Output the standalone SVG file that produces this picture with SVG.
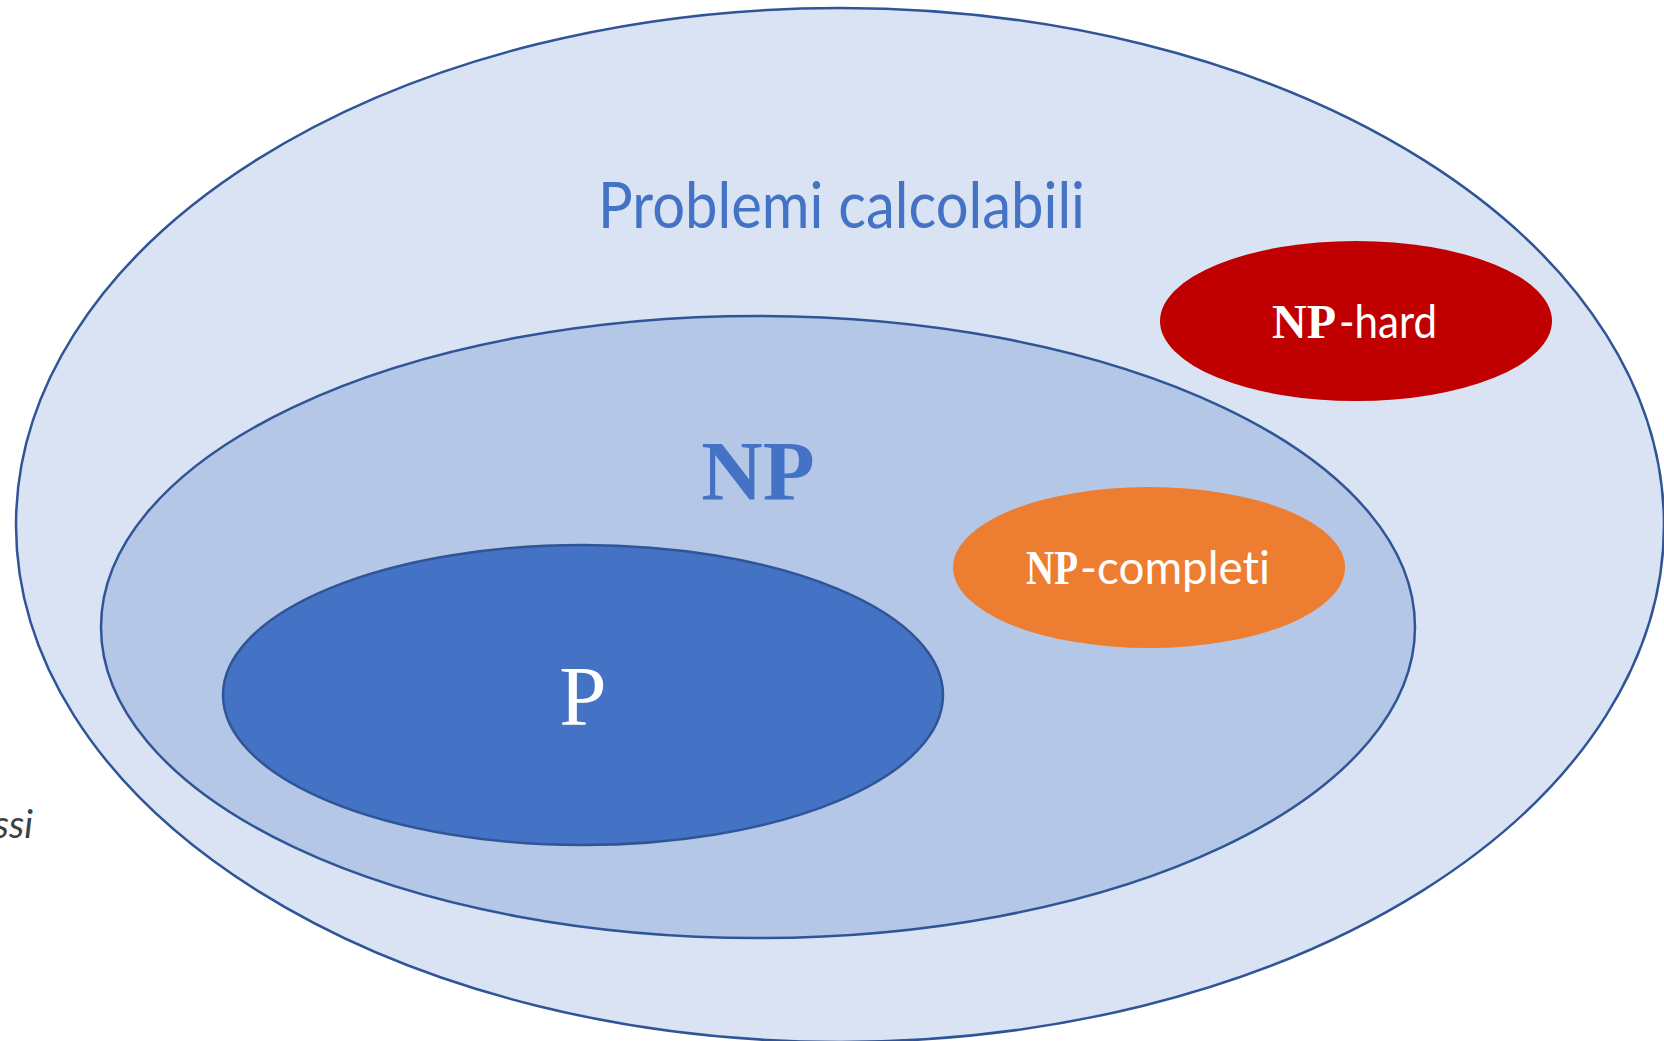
<svg xmlns="http://www.w3.org/2000/svg" width="1664" height="1041" viewBox="0 0 1664 1041">
  <style>
    .set { stroke: #2F5597; stroke-width: 2.5; }
    .serif { font-family: "Liberation Serif", "Times New Roman", serif; }
    .sans { font-family: "Lato", "Open Sans", "Liberation Sans", sans-serif; font-variant-ligatures: none; }
    .white { fill: #FFFFFF; }
  </style>
  <rect width="1664" height="1041" fill="#FFFFFF"/>

  <!-- side caption, partly outside the page -->
  <text id="side-caption" class="sans" x="33" y="838" text-anchor="end" font-size="38" font-style="italic" fill="#404040">ssi</text>

  <g id="calcolabili">
    <ellipse class="set" cx="840" cy="525" rx="824" ry="517" fill="#DAE3F3"/>
    <text class="sans" x="598" y="228" font-size="64" fill="#4472C4" textLength="487" lengthAdjust="spacingAndGlyphs">Problemi calcolabili</text>
  </g>

  <g id="np">
    <ellipse class="set" cx="758" cy="627" rx="657" ry="311" fill="#B4C7E7"/>
    <text class="serif" x="758" y="500" text-anchor="middle" font-size="85" font-weight="bold" fill="#4472C4">NP</text>
  </g>

  <g id="p">
    <ellipse class="set" cx="583" cy="695" rx="360" ry="150" fill="#4472C4"/>
    <text class="serif white" x="583" y="725" text-anchor="middle" font-size="85">P</text>
  </g>

  <g id="np-hard">
    <ellipse cx="1356" cy="321" rx="196" ry="80" fill="#C00000"/>
    <text class="white" y="338"><tspan class="serif" x="1272" font-size="48" font-weight="bold" textLength="64" lengthAdjust="spacingAndGlyphs">NP</tspan><tspan class="sans" x="1339" font-size="46" textLength="98" lengthAdjust="spacingAndGlyphs">-hard</tspan></text>
  </g>

  <g id="np-completi">
    <ellipse cx="1149" cy="567.5" rx="196" ry="80.5" fill="#ED7D31"/>
    <text class="white" y="584"><tspan class="serif" x="1026" font-size="48" font-weight="bold" textLength="52" lengthAdjust="spacingAndGlyphs">NP</tspan><tspan class="sans" x="1080" font-size="46" textLength="190" lengthAdjust="spacingAndGlyphs">-completi</tspan></text>
  </g>

  <g id="connectors"/>
</svg>
